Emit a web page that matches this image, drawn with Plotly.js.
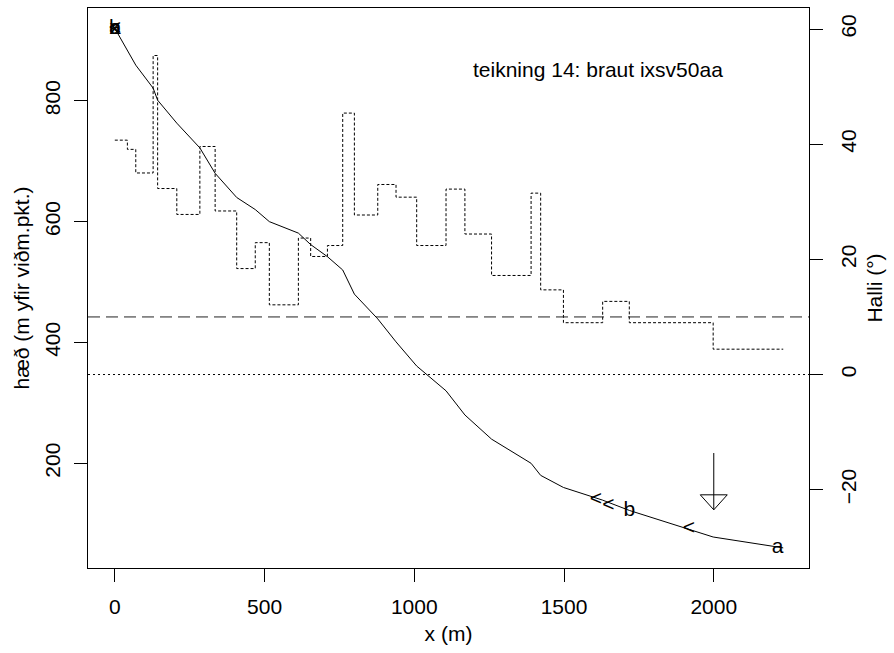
<!DOCTYPE html>
<html>
<head>
<meta charset="utf-8">
<script src="https://cdn.plot.ly/plotly-3.0.1.min.js"></script>
<style>html,body{margin:0;padding:0;background:#fff}#chart{width:894px;height:653px}</style>
</head>
<body>
<div id="chart"></div>
<script>
// Distance along profile (m) at each break point
const stepX = [0,42,70,128,143,207,284,335,407,469,516,613,654,710,761,800,878,939,1008,1106,1169,1258,1390,1422,1498,1629,1718,1998,2232];
// Elevation (m above datum) at each break point
const profileY = [920,884,859,821,801,763,722,680,640,620,600,581,562,542,520,480,439,401,361,320,280,240,200,180,160,139,122,78,60];
// Slope (degrees) of each segment
const slopeDeg = [40.7,39.1,35.0,55.4,32.3,27.8,39.6,28.4,18.4,22.9,12.1,23.7,20.5,22.4,45.4,27.7,33.0,30.8,22.4,32.2,24.4,17.2,31.5,14.7,9.0,12.7,9.0,4.4];
// Reference slope levels (degrees)
const refDashed = 10;
const refDotted = 0;
// Point labels
const labelText = ['<','<','b','<','a','a','b','x','<'];
const labelX = [1606,1648,1718,1917,2213,0,0,0,0];
const labelY = [139,130,122,91,60,920,920,920,920];
// Arrow marker
const arrowX = 2000, arrowTop = 217, arrowTip = 123;
// Title text
const noteText = 'teikning 14: braut ixsv50aa';
const noteX = 1613, noteY = 851;
const xTicks = [0,500,1000,1500,2000];
const yTicks = [200,400,600,800];
const y2Ticks = [-20,0,20,40,60];

const F = 'Liberation Sans, Arial, Helvetica, sans-serif';
const fs = 21;

const traces = [
  {x: stepX, y: profileY, type:'scatter', mode:'lines', line:{color:'#000', width:1}, xaxis:'x', yaxis:'y', hoverinfo:'skip'},
  {x: stepX, y: slopeDeg.concat([slopeDeg[slopeDeg.length-1]]), type:'scatter', mode:'lines', line:{color:'#000', width:1, dash:'3px,2px', shape:'hv'}, xaxis:'x', yaxis:'y2', hoverinfo:'skip'},
  {x: labelX, y: labelY, text: labelText, type:'scatter', mode:'text', textfont:{family:F, size:fs, color:'#000'}, textposition:'middle center', xaxis:'x', yaxis:'y', hoverinfo:'skip'}
];

const layout = {
  width: 894, height: 653,
  margin: {l:88, r:85, t:8, b:85},
  paper_bgcolor:'#fff', plot_bgcolor:'#fff',
  showlegend:false,
  font:{family:F, size:fs, color:'#000'},
  xaxis: {range:[-89.5,2318], tickvals:xTicks, ticks:'outside', ticklen:13, tickcolor:'#000', showline:true, linecolor:'#000', mirror:true, showgrid:false, zeroline:false, ticklabelstandoff:7, title:{text:'x (m)', font:{size:fs}, standoff:9}, tickfont:{size:fs}},
  yaxis: {range:[26.7,953.6], tickvals:yTicks, ticks:'outside', ticklen:13, tickcolor:'#000', showline:true, linecolor:'#000', mirror:true, showgrid:false, zeroline:false, tickangle:-90, ticklabelstandoff:6, title:{text:'hæð (m yfir viðm.pkt.)', font:{size:fs}, standoff:5}, tickfont:{size:fs}},
  yaxis2: {range:[-33.6,63.65], tickvals:y2Ticks, overlaying:'y', side:'right', ticks:'outside', ticklen:13, tickcolor:'#000', showline:true, linecolor:'#000', showgrid:false, zeroline:false, tickangle:-90, ticklabelstandoff:8, title:{text:'Halli (°)', font:{size:fs}, standoff:8}, tickfont:{size:fs}},
  shapes: [
    {type:'line', xref:'paper', x0:0, x1:1, yref:'y2', y0:refDashed, y1:refDashed, line:{color:'#222', width:1, dash:'12px,6px'}},
    {type:'line', xref:'paper', x0:0, x1:1, yref:'y2', y0:refDotted, y1:refDotted, line:{color:'#000', width:1, dash:'2px,3px'}},
    {type:'line', xref:'x', yref:'y', x0:arrowX, x1:arrowX, y0:arrowTop, y1:arrowTip, line:{color:'#000', width:1}},
    {type:'path', xref:'x', yref:'y', xsizemode:'pixel', ysizemode:'pixel', xanchor:arrowX, yanchor:arrowTip, path:'M -13.5,15 L 13.5,15 L 0,0 Z', line:{color:'#000', width:1}}
  ],
  annotations: [
    {x:noteX, y:noteY, xref:'x', yref:'y', text:noteText, showarrow:false, font:{family:F, size:fs, color:'#000'}}
  ]
};

Plotly.newPlot('chart', traces, layout, {displayModeBar:false, staticPlot:true});
</script>
</body>
</html>
